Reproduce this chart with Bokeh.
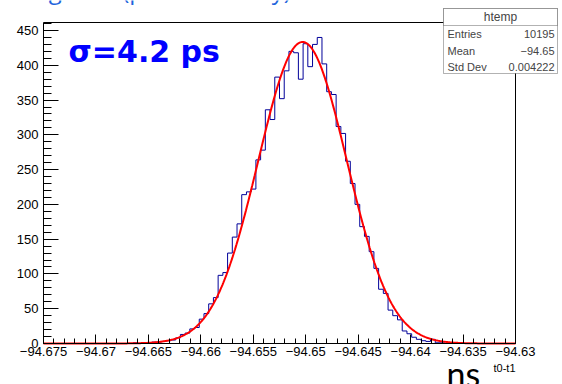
import numpy as np
from bokeh.plotting import figure
from bokeh.models import Label, FixedTicker, BoxAnnotation
from bokeh.embed import file_html
from bokeh.resources import INLINE

# ---------------- data ----------------
bin_lo = -94.675
bin_hi = -94.63
n_bins = 100
counts = [0] * 18 + [
    0, 1, 0, 1, 1, 2, 2, 3, 4, 5, 8, 13, 15,            # 18-30
    21, 23, 35, 43, 57, 66, 98, 102, 130, 153,           # 31-40
    172, 214, 218, 222, 264, 278, 336, 322, 383, 352,    # 41-50
    392, 420, 418, 380, 431, 398, 430, 440, 402, 362,    # 51-60
    358, 312, 302, 262, 230, 200, 168, 154, 132, 108,    # 61-70
    78, 72, 48, 40, 34, 18, 14, 9, 6, 4,                 # 71-80
    3, 6, 1, 1, 0, 1,                                    # 81-86
] + [0] * 13

fit_const = 433.5
fit_mean = -94.6503
fit_sigma = 0.004222

x_ticks = [-94.675, -94.67, -94.665, -94.66, -94.655, -94.65,
           -94.645, -94.64, -94.635, -94.63]
x_tick_labels = ["\u221294.675", "\u221294.67", "\u221294.665", "\u221294.66",
                 "\u221294.655", "\u221294.65", "\u221294.645", "\u221294.64",
                 "\u221294.635", "\u221294.63"]
y_ticks = [0, 50, 100, 150, 200, 250, 300, 350, 400, 450]

stat_title = "htemp"
stat_names = ["Entries", "Mean", "Std Dev"]
stat_values = ["10195", "\u221294.65", "0.004222"]

sigma_text = "\u03c3=4.2 ps"
x_unit_text = "ns"
x_title = "t0-t1"
top_text = "Timing with (pixel test only)"

# ---------------- layout ----------------
W, H = 562, 384
FL, FR, FT, FB = 43, 515, 22, 343          # ROOT frame in canvas pixels
y_top = 450 * (FB - FT) / (FB - 30)

def sx(px):
    return bin_lo + (px - FL) / (FR - FL) * (bin_hi - bin_lo)

def sy(py):
    return (FB - py) / (FB - FT) * y_top

p = figure(width=W, height=H, x_range=(sx(0), sx(W)), y_range=(sy(H), sy(0)),
           output_backend="svg", toolbar_location=None,
           min_border_left=0, min_border_right=0,
           min_border_top=0, min_border_bottom=0)
p.background_fill_color = "white"
p.border_fill_color = "white"
p.outline_line_color = None
p.xgrid.visible = False
p.ygrid.visible = False

# ROOT frame (top and right sides)
p.line([bin_lo, bin_hi, bin_hi], [y_top, y_top, 0], line_color="black", line_width=1)

# histogram outline
edges = np.linspace(bin_lo, bin_hi, n_bins + 1)
hx = np.concatenate([[edges[0]], np.repeat(edges, 2)[1:-1], [edges[-1]]])
hy = np.concatenate([[0], np.repeat(np.array(counts, dtype=float), 2), [0]])
p.line(hx, hy, line_color="#000099", line_width=1)

# gaussian fit
fx = np.linspace(bin_lo, bin_hi, 600)
fy = fit_const * np.exp(-0.5 * ((fx - fit_mean) / fit_sigma) ** 2)
p.line(fx, fy, line_color="#ff0000", line_width=2)

# axes
tick_font = "Liberation Sans"
ax = p.xaxis[0]
ax.fixed_location = 0
ax.bounds = (bin_lo, bin_hi)
ax.ticker = FixedTicker(ticks=x_ticks,
                        minor_ticks=[round(bin_lo + i * 0.001, 3) for i in range(46)])
ax.major_label_overrides = {t: l for t, l in zip(x_ticks, x_tick_labels)}
ax.major_label_text_font = tick_font
ax.major_label_text_font_size = "13px"
ax.major_label_text_color = "black"
ax.major_tick_in = 9
ax.major_tick_out = 0
ax.minor_tick_in = 5
ax.minor_tick_out = 0
ax.major_label_standoff = 3
ax.axis_line_color = "black"
ax.major_tick_line_color = "black"
ax.minor_tick_line_color = "black"

ay = p.yaxis[0]
ay.fixed_location = bin_lo
ay.bounds = (0, y_top)
ay.ticker = FixedTicker(ticks=y_ticks, minor_ticks=list(range(0, 461, 10)))
ay.major_label_text_font = tick_font
ay.major_label_text_font_size = "13px"
ay.major_label_text_color = "black"
ay.major_tick_in = 15
ay.major_tick_out = 0
ay.minor_tick_in = 8
ay.minor_tick_out = 0
ay.major_label_standoff = 5
ay.axis_line_color = "black"
ay.major_tick_line_color = "black"
ay.minor_tick_line_color = "black"

# stat box
box_l, box_r, box_t, box_b, box_sep = 443, 557, 8, 73, 25
p.add_layout(BoxAnnotation(left=sx(box_l), right=sx(box_r), top=sy(box_t), bottom=sy(box_b),
                           fill_color="white", fill_alpha=1, line_color="black",
                           line_width=1, level="overlay"))
p.add_layout(BoxAnnotation(left=sx(box_l), right=sx(box_r), top=sy(box_t), bottom=sy(box_sep),
                           fill_color="white", fill_alpha=1, line_color="black",
                           line_width=1, level="overlay"))
p.add_layout(Label(x=sx((box_l + box_r) / 2), y=sy(16.5), text=stat_title,
                   text_font=tick_font, text_font_size="12px", text_align="center",
                   text_baseline="middle", level="overlay"))
for i, (n, v) in enumerate(zip(stat_names, stat_values)):
    yc = 33.5 + i * 16.5
    p.add_layout(Label(x=sx(box_l + 4), y=sy(yc), text=n, text_font=tick_font,
                       text_font_size="11px", text_align="left",
                       text_baseline="middle", level="overlay"))
    p.add_layout(Label(x=sx(box_r - 3), y=sy(yc), text=v, text_font=tick_font,
                       text_font_size="11px", text_align="right",
                       text_baseline="middle", level="overlay"))

# annotation texts (y positions compensate Bokeh's baseline placement)
p.add_layout(Label(x=sx(68), y=sy(51), text=sigma_text, text_font="DejaVu Sans",
                   text_font_style="bold", text_font_size="30px", text_color="#0000ff",
                   text_align="left", text_baseline="alphabetic"))
p.add_layout(Label(x=sx(446), y=sy(373), text=x_unit_text, text_font="Lato",
                   text_font_size="34px", text_color="black",
                   text_align="left", text_baseline="alphabetic"))
p.add_layout(Label(x=sx(515), y=sy(367), text=x_title, text_font=tick_font,
                   text_font_size="11px", text_color="black",
                   text_align="right", text_baseline="alphabetic"))
p.add_layout(Label(x=sx(-14), y=sy(-11), text=top_text, text_font="Open Sans",
                   text_font_size="24px", text_color="#1e64dc",
                   text_align="left", text_baseline="alphabetic"))

open("out.html", "w").write(file_html(p, INLINE))
